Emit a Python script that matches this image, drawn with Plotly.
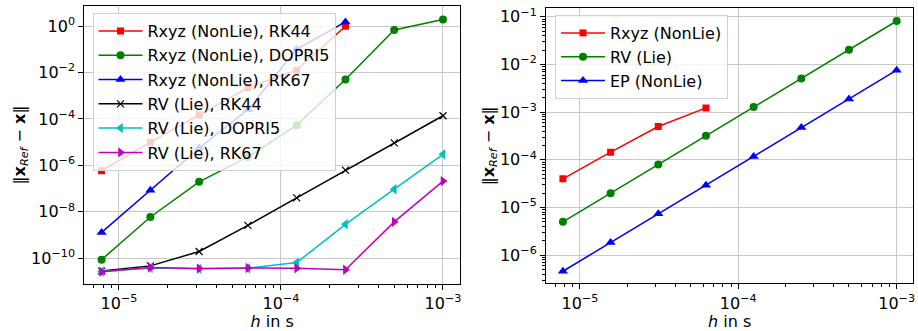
import plotly.graph_objects as go

# Step sizes h (s)
h = [7.8125e-6, 1.5625e-5, 3.125e-5, 6.25e-5, 1.25e-4, 2.5e-4, 5e-4, 1e-3]

# Left panel: integrator comparison
rxyz_rk44 = [5.8e-7, 1.0e-5, 1.5e-4, 2.2e-3, 1.26e-2, 0.98]
rxyz_dopri5 = [8.7e-11, 6.0e-9, 1.95e-7, 2.3e-6, 5.4e-5, 5.0e-3, 0.67, 1.9]
rxyz_rk67 = [1.3e-9, 8.5e-8, 5.6e-6, 2.5e-4, 0.1, 1.5]
rv_rk44 = [2.8e-11, 4.7e-11, 1.95e-10, 2.6e-9, 4.0e-8, 6.2e-7, 9.3e-6, 1.37e-4]
rv_dopri5 = [2.7e-11, 3.8e-11, 3.5e-11, 3.7e-11, 6.5e-11, 2.9e-9, 9.4e-8, 3.0e-6]
rv_rk67 = [2.6e-11, 4.0e-11, 3.6e-11, 3.8e-11, 3.7e-11, 3.2e-11, 3.7e-9, 2.1e-7]

# Right panel: formulation comparison
rxyz_nonlie = [4.0e-5, 1.45e-4, 5.0e-4, 1.23e-3]
rv_lie = [5.0e-6, 2.0e-5, 8.0e-5, 3.2e-4, 1.28e-3, 5.1e-3, 2.05e-2, 8.2e-2]
ep_nonlie = [4.6e-7, 1.85e-6, 7.4e-6, 2.95e-5, 1.18e-4, 4.75e-4, 1.9e-3, 7.6e-3]

x_ticks = [1e-5, 1e-4, 1e-3]
x_ticktext = ["10<sup>−5</sup>", "10<sup>−4</sup>", "10<sup>−3</sup>"]
left_yticks = [1e0, 1e-2, 1e-4, 1e-6, 1e-8, 1e-10]
left_yticktext = ["10<sup>0</sup>", "10<sup>−2</sup>", "10<sup>−4</sup>",
                  "10<sup>−6</sup>", "10<sup>−8</sup>", "10<sup>−10</sup>"]
right_yticks = [1e-1, 1e-2, 1e-3, 1e-4, 1e-5, 1e-6]
right_yticktext = ["10<sup>−1</sup>", "10<sup>−2</sup>", "10<sup>−3</sup>",
                   "10<sup>−4</sup>", "10<sup>−5</sup>", "10<sup>−6</sup>"]

RED, GREEN, BLUE = "#ff0000", "#008000", "#0000ff"
BLACK, CYAN, MAGENTA = "#000000", "#00bfbf", "#bf00bf"

FONT = dict(family="DejaVu Sans", size=16, color="black")

fig = go.Figure()


def add(x, y, name, color, symbol, xa, ya, legend, msize=8, group=None):
    mline = dict(width=0)
    if symbol == "x-thin":
        mline = dict(width=1.2, color=color)
    fig.add_trace(go.Scatter(
        x=x[:len(y)], y=y, name=name, mode="lines+markers",
        line=dict(color=color, width=1.5),
        marker=dict(symbol=symbol, size=msize, color=color, line=mline),
        xaxis=xa, yaxis=ya, legend=legend, legendgroup=group or name,
    ))


add(h, rxyz_rk44, "Rxyz (NonLie), RK44", RED, "square", "x", "y", "legend", 7)
add(h, rxyz_dopri5, "Rxyz (NonLie), DOPRI5", GREEN, "circle", "x", "y", "legend", 8)
add(h, rxyz_rk67, "Rxyz (NonLie), RK67", BLUE, "triangle-up", "x", "y", "legend", 9)
add(h, rv_rk44, "RV (Lie), RK44", BLACK, "x-thin", "x", "y", "legend", 7)
add(h, rv_dopri5, "RV (Lie), DOPRI5", CYAN, "triangle-left", "x", "y", "legend", 9)
add(h, rv_rk67, "RV (Lie), RK67", MAGENTA, "triangle-right", "x", "y", "legend", 9)

add(h, rxyz_nonlie, "Rxyz (NonLie)", RED, "square", "x2", "y2", "legend2", 7, "r1")
add(h, rv_lie, "RV (Lie)", GREEN, "circle", "x2", "y2", "legend2", 8, "r2")
add(h, ep_nonlie, "EP (NonLie)", BLUE, "triangle-up", "x2", "y2", "legend2", 9, "r3")


def minor_vals(lo, hi):
    vals = []
    for e in range(lo, hi + 1):
        for m in range(2, 10):
            vals.append(m * 10.0 ** e)
    return vals


W, H = 918, 331
axis_common = dict(
    type="log", showline=True, linecolor="black", linewidth=1, mirror=True,
    ticks="outside", ticklen=5, tickwidth=1, tickcolor="black",
    showgrid=True, gridcolor="#c8c8c8", gridwidth=1, zeroline=False,
    tickfont=FONT, automargin=False,
)

xtitle = dict(text="<i>h</i> in s", font=FONT, standoff=0)
ytitle = dict(text="‖<b>x</b><sub><i>Ref</i></sub> − <b>x</b>‖", font=FONT, standoff=1)

legend_common = dict(
    xanchor="left", yanchor="top", bgcolor="rgba(255,255,255,0.8)",
    bordercolor="#d0d0d0", borderwidth=1, font=FONT, itemwidth=44,
    traceorder="grouped",
)

fig.update_layout(
    width=W, height=H, margin=dict(l=0, r=0, t=0, b=0),
    paper_bgcolor="white", plot_bgcolor="white", font=FONT,
    xaxis=dict(axis_common, domain=[84.3 / W, 460 / W], range=[-5.214, -2.895],
               tickvals=x_ticks, ticktext=x_ticktext, anchor="y", title=xtitle,
               minor=dict(tickvals=minor_vals(-6, -4), ticks="outside", ticklen=3,
                          tickcolor="black", showgrid=False)),
    yaxis=dict(axis_common, domain=[1 - 284 / H, 1 - 6 / H], range=[-11.108, 0.862],
               tickvals=left_yticks, ticktext=left_yticktext, anchor="x", title=ytitle),
    xaxis2=dict(axis_common, domain=[546 / W, 913.3 / W], range=[-5.214, -2.895],
                tickvals=x_ticks, ticktext=x_ticktext, anchor="y2", title=xtitle,
                minor=dict(tickvals=minor_vals(-6, -4), ticks="outside", ticklen=3,
                           tickcolor="black", showgrid=False)),
    yaxis2=dict(axis_common, domain=[1 - 283.3 / H, 1 - 8.3 / H], range=[-6.59, -0.82],
                tickvals=right_yticks, ticktext=right_yticktext, anchor="x2", title=ytitle,
                minor=dict(tickvals=minor_vals(-7, -1), ticks="outside", ticklen=3,
                           tickcolor="black", showgrid=False)),
    legend=dict(legend_common, x=92.5 / W, y=1 - 13 / H, tracegroupgap=0.5),
    legend2=dict(legend_common, x=555 / W, y=1 - 15 / H, tracegroupgap=0),
    showlegend=True,
)

fig.write_html("out.html")
